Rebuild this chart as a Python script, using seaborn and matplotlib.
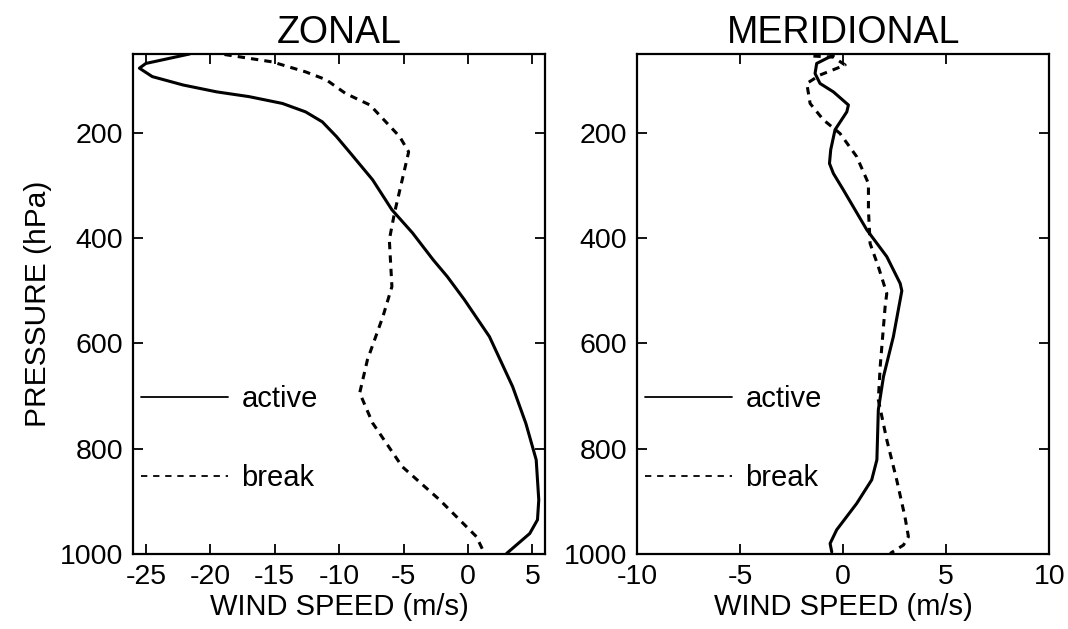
import numpy as np
import pandas as pd
import matplotlib
matplotlib.use("Agg")
import matplotlib.pyplot as plt
import seaborn as sns

# ---------------- data ----------------
zonal_active_p = [50, 68, 77, 93, 109, 122, 131, 144, 160, 179, 207, 239, 289, 346, 390, 441,
                  473, 517, 587, 682, 752, 821, 897, 935, 961, 999]
zonal_active_u = [-21.6, -25.0, -25.5, -24.5, -22.1, -19.5, -17.0, -14.4, -12.6, -11.3, -10.2,
                  -9.1, -7.4, -5.9, -4.3, -2.7, -1.6, -0.27, 1.67, 3.47, 4.5, 5.3, 5.5, 5.4,
                  4.8, 3.0]

zonal_break_p = [51, 65, 84, 99, 125, 147, 207, 236, 289, 352, 403, 492, 549, 631, 694, 751,
                 834, 897, 967, 992]
zonal_break_u = [-18.9, -15.2, -12.6, -11.0, -9.5, -7.6, -5.3, -4.6, -5.1, -5.7, -6.1, -5.9,
                 -6.6, -7.8, -8.4, -7.4, -5.1, -2.2, 0.66, 1.15]

merid_active_p = [52, 68, 87, 106, 122, 147, 160, 194, 232, 258, 277, 308, 384, 435, 486, 500,
                  517, 587, 663, 726, 821, 859, 904, 954, 980, 996]
merid_active_v = [-0.47, -1.28, -1.36, -1.12, -0.47, 0.26, 0.18, -0.39, -0.6, -0.66, -0.47,
                  0.01, 1.15, 2.12, 2.77, 2.85, 2.77, 2.44, 1.96, 1.71, 1.64, 1.39, 0.66,
                  -0.31, -0.63, -0.55]

merid_break_p = [54, 56, 71, 90, 106, 144, 175, 201, 245, 296, 346, 410, 454, 505, 530, 644,
                 707, 783, 859, 929, 967, 983, 999]
merid_break_v = [-1.44, -0.47, 0.1, -1.12, -1.76, -1.6, -0.96, -0.15, 0.66, 1.23, 1.23, 1.31,
                 1.71, 2.12, 2.04, 1.8, 1.71, 2.12, 2.6, 3.0, 3.17, 2.93, 2.28]

regimes = ["active", "break"]
titles = ["ZONAL", "MERIDIONAL"]
xlabel = "WIND SPEED (m/s)"
ylabel = "PRESSURE (hPa)"
zonal_xticks = [-25, -20, -15, -10, -5, 0, 5]
merid_xticks = [-10, -5, 0, 5, 10]
p_ticks = [200, 400, 600, 800, 1000]

# ---------------- styling ----------------
sns.set_theme(style="ticks")
plt.rcParams["font.family"] = ["Liberation Sans", "DejaVu Sans"]
plt.rcParams["axes.linewidth"] = 1.6
plt.rcParams["text.color"] = "black"
plt.rcParams["axes.labelcolor"] = "black"
plt.rcParams["xtick.color"] = "black"
plt.rcParams["ytick.color"] = "black"

fig = plt.figure(figsize=(10.68, 6.29), dpi=100)
ax1 = fig.add_axes([0.1245, 0.1192, 0.386, 0.795])
ax2 = fig.add_axes([0.5964, 0.1192, 0.386, 0.795])


def make_df(p_a, u_a, p_b, u_b):
    return pd.concat([
        pd.DataFrame({"p": p_a, "u": u_a, "regime": regimes[0]}),
        pd.DataFrame({"p": p_b, "u": u_b, "regime": regimes[1]}),
    ], ignore_index=True)


dfs = [make_df(zonal_active_p, zonal_active_u, zonal_break_p, zonal_break_u),
       make_df(merid_active_p, merid_active_v, merid_break_p, merid_break_v)]

for ax, df, title, xlim, xt in zip([ax1, ax2], dfs, titles, [(-26, 6), (-10, 10)],
                                   [zonal_xticks, merid_xticks]):
    sns.lineplot(data=df, x="u", y="p", style="regime", orient="y", estimator=None,
                 color="black", linewidth=2.2,
                 dashes={"active": "", "break": (2.4, 2.0)}, ax=ax, legend=False)
    for ln in ax.get_lines():
        ln.set_solid_joinstyle("round")
        ln.set_dash_joinstyle("round")
    ax.set_xlim(*xlim)
    ax.set_ylim(1000, 50)
    ax.set_xticks(xt)
    ax.set_xticklabels([str(v) for v in xt])
    ax.set_yticks(p_ticks)
    ax.set_yticklabels([str(v) for v in p_ticks])
    ax.tick_params(direction="in", length=7, width=1.3, top=True, right=True,
                   labelsize=20.5, pad=7, colors="black")
    for s in ax.spines.values():
        s.set_visible(True)
        s.set_color("black")
        s.set_linewidth(1.6)
    ax.set_title(title, fontsize=27, pad=8, color="black")
    ax.set_xlabel(xlabel, fontsize=21, labelpad=2, color="black")
    ax.set_ylabel("")
    lines = ax.get_lines()[:2]
    leg = ax.legend(lines, regimes, loc="center left", bbox_to_anchor=(0.019, 0.231),
                    frameon=False, fontsize=21, handlelength=3.0, handletextpad=0.45,
                    labelspacing=1.74, borderpad=0, borderaxespad=0)
    lh = leg.get_lines()
    lh[0].set_linewidth(1.3)
    lh[1].set_linewidth(1.3)
    lh[1].set_dashes((3.5, 3.2))
    for t in leg.get_texts():
        t.set_color("black")

ax1.set_ylabel(ylabel, fontsize=21.5, labelpad=6, color="black")

fig.savefig("out.png", dpi=100, facecolor="white")
